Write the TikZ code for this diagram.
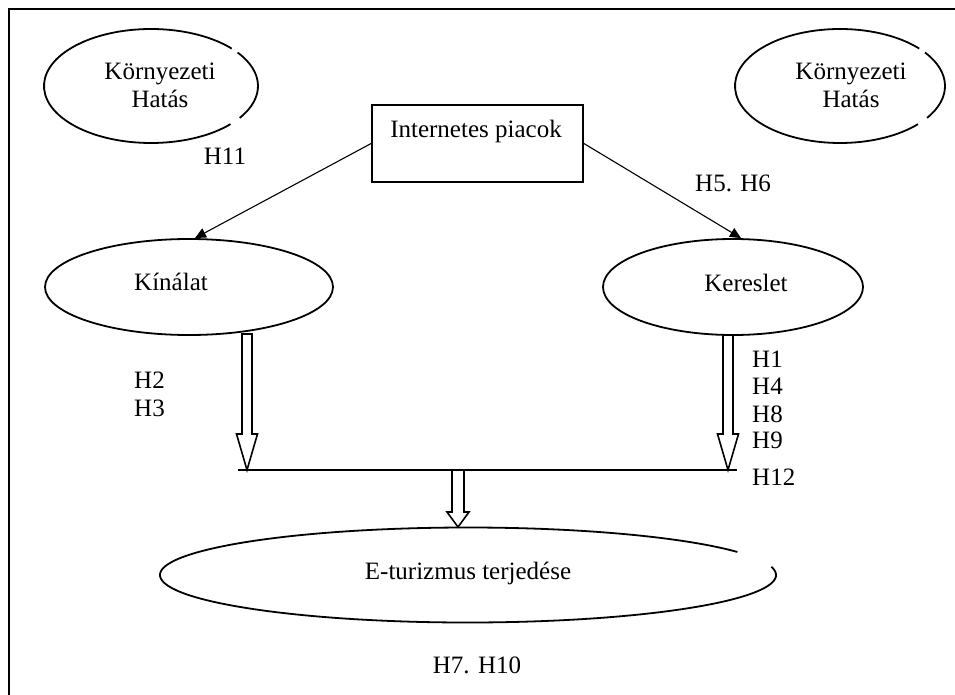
\documentclass[tikz,border=0pt]{standalone}
\usepackage{fontspec}
\setmainfont{Liberation Serif}
\usetikzlibrary{shapes.geometric,arrows.meta,calc}

\tikzset{
  lbl/.style={inner sep=0pt, font=\fontsize{25}{30}\selectfont, anchor=base},
  lblw/.style={lbl, anchor=base west},
  oval/.style={ellipse, inner sep=0pt, line width=1.8pt},
  outline/.style={line width=1.8pt},
  link/.style={line width=1.1pt, -{Triangle[length=11pt,width=10pt]}},
  bar/.style={line width=1.3pt},
  blk/.style={line width=1.6pt, fill=white, line join=miter},
  frame/.style={line width=2pt},
}

% hollow block arrow pointing straight down:
% #1 start, #2 tip, #3 half shaft width, #4 half head width, #5 head length
\newcommand\hollowarrow[5]{%
  \draw[blk] let \p1=(#1), \p2=(#2) in
    (\x1-#3pt,\y1) -- (\x1-#3pt,\y2+#5pt) -- (\x1-#4pt,\y2+#5pt) -- (\x2,\y2)
    -- (\x1+#4pt,\y2+#5pt) -- (\x1+#3pt,\y2+#5pt) -- (\x1+#3pt,\y1) -- cycle;}

\begin{document}
\begin{tikzpicture}[x=1pt,y=-1pt]
\useasboundingbox (0,0) rectangle (955,695);
\draw[frame] (9,695) -- (9,9) -- (955,9);

% environment ovals (outlines broken on the right)
\node[oval, minimum width=214pt, minimum height=114pt] (envL) at (151,86) {};
\draw[outline] (envL.center) ++(-42:107pt and 57pt)
  arc[start angle=-42, end angle=-319, x radius=107pt, y radius=57pt];
\draw[outline] (envL.center) ++(36:107pt and 57pt)
  arc[start angle=36, end angle=-34, x radius=107pt, y radius=57pt];
\node[lbl] (envL1) at (160,80) {Környezeti};
\node[lbl] (envL2) at (160,108) {Hatás};

\node[oval, minimum width=210pt, minimum height=114pt] (envR) at (840,86) {};
\draw[outline] (envR.center) ++(-42:105pt and 57pt)
  arc[start angle=-42, end angle=-319, x radius=105pt, y radius=57pt];
\draw[outline] (envR.center) ++(36:105pt and 57pt)
  arc[start angle=36, end angle=-34, x radius=105pt, y radius=57pt];
\node[lbl] (envR1) at (851,80) {Környezeti};
\node[lbl] (envR2) at (851,108) {Hatás};

% internet markets box
\node[draw, line width=1.8pt, minimum width=211pt, minimum height=77pt, inner sep=0pt] (box) at (477.5,143.5) {};
\node[lbl] (boxT) at (476,138) {Internetes piacok};

% supply and demand
\node[oval, draw, minimum width=288pt, minimum height=96pt] (kin) at (189,287) {};
\node[lbl] (kinT) at (171,290) {Kínálat};
\node[oval, draw, minimum width=260pt, minimum height=96pt] (ker) at (733,287) {};
\node[lbl] (kerT) at (746,291) {Kereslet};

\draw[link] (box.west) -- ([xshift=6pt]kin.north);
\draw[link] (box.east) -- ([xshift=8pt]ker.north);
\node[lbl] (h11) at (225,165) {H11};
\node[lblw] (h56) at (695,192) {H5. H6};

% joining bar and block arrows
\coordinate (barL) at (238,470);
\coordinate (barR) at (737,470);
\draw[bar] (barL) -- (barR);

\coordinate (kinOut) at (247,334);
\coordinate (tipL) at (247,470);
\coordinate (kerOut) at (728,335);
\coordinate (tipR) at (728,470);
\coordinate (barMid) at (458,470);
\coordinate (tipM) at (458,527);
\hollowarrow{kinOut}{tipL}{5}{10.5}{36}
\hollowarrow{kerOut}{tipR}{5}{10.5}{36}
\hollowarrow{barMid}{tipM}{6}{11}{15}

\node[lblw] (h2) at (134,388) {H2};
\node[lblw] (h3) at (134,416) {H3};
\node[lblw] (h1) at (752,367) {H1};
\node[lblw] (h4) at (752,394) {H4};
\node[lblw] (h8) at (752,422) {H8};
\node[lblw] (h9) at (752,448) {H9};
\node[lblw] (h12) at (752,485) {H12};

% e-tourism oval
\node[oval, minimum width=616pt, minimum height=95pt] (etur) at (468,575) {};
\draw[outline] (etur.center) ++(10:308pt and 47.5pt)
  arc[start angle=10, end angle=-331, x radius=308pt, y radius=47.5pt];
\node[lbl] (eturT) at (468,579) {E-turizmus terjedése};

\node[lbl] (h710) at (477,673) {H7. H10};
\end{tikzpicture}
\end{document}
